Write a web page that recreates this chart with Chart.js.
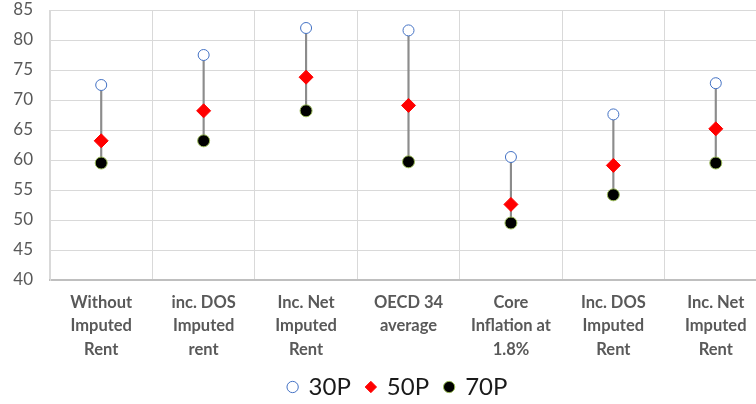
<!DOCTYPE html>
<html>
<head>
<meta charset="utf-8">
<script src="https://cdn.jsdelivr.net/npm/chart.js@4.4.1/dist/chart.umd.min.js"></script>
<style>
  html, body { margin: 0; padding: 0; background: #fff; overflow: hidden; }
  #wrap { width: 796px; height: 409px; }
</style>
</head>
<body>
<div id="wrap"><canvas id="c"></canvas></div>
<script>
// Categories (multi-line labels) and percentile values
const categories = [
  ["Without", "Imputed", "Rent"],
  ["inc. DOS", "Imputed", "rent"],
  ["Inc. Net", "Imputed", "Rent"],
  ["OECD 34", "average"],
  ["Core", "Inflation at", "1.8%"],
  ["Inc. DOS", "Imputed", "Rent"],
  ["Inc. Net", "Imputed", "Rent"]
];
const p30 = [72.5, 77.5, 82.0, 81.6, 60.5, 67.6, 72.8];
const p50 = [63.2, 68.2, 73.8, 69.1, 52.6, 59.1, 65.2];
const p70 = [59.5, 63.2, 68.2, 59.7, 49.5, 54.2, 59.5];
const yTicks = [40, 45, 50, 55, 60, 65, 70, 75, 80, 85];

// High-low connector between the 70th and 30th percentile
const ranges = p30.map((v, i) => [p70[i], v]);

const FONT = "Lato";

new Chart(document.getElementById("c"), {
  data: {
    labels: categories,
    datasets: [
      {
        type: "scatter",
        label: "30P",
        data: p30,
        pointStyle: "circle",
        pointRadius: 5.5,
        pointBackgroundColor: "#ffffff",
        pointBorderColor: "#4472C4",
        pointBorderWidth: 1,
        showLine: false,
        order: 1
      },
      {
        type: "scatter",
        label: "50P",
        data: p50,
        pointStyle: "rectRot",
        pointRadius: 7,
        pointBackgroundColor: "#ff0000",
        pointBorderColor: "#ff0000",
        pointBorderWidth: 1,
        showLine: false,
        order: 1
      },
      {
        type: "scatter",
        label: "70P",
        data: p70,
        pointStyle: "circle",
        pointRadius: 6,
        pointBackgroundColor: "#000000",
        pointBorderColor: "#9BBB59",
        pointBorderWidth: 1,
        showLine: false,
        order: 1
      },
      {
        type: "bar",
        label: "range",
        data: ranges,
        backgroundColor: "#8c8c8c",
        borderWidth: 0,
        barThickness: 1.5,
        order: 2
      }
    ]
  },
  options: {
    responsive: true,
    maintainAspectRatio: false,
    animation: false,
    layout: { padding: { top: 0, bottom: 0, left: 0, right: 0 } },
    plugins: {
      tooltip: { enabled: false },
      legend: {
        position: "bottom",
        labels: {
          filter: (item) => item.text !== "range",
          usePointStyle: true,
          boxWidth: 8,
          boxHeight: 8,
          padding: 16,
          color: "#1a1a1a",
          font: { family: FONT, size: 24 }
        }
      }
    },
    scales: {
      x: {
        type: "category",
        offset: true,
        grid: { display: true, offset: true, color: "#d9d9d9", lineWidth: 1, drawTicks: false },
        border: { display: true, color: "#bfbfbf", width: 2 },
        ticks: {
          color: "#595959",
          font: { family: FONT, size: 16.5, weight: "bold", lineHeight: 1.42 },
          padding: 11,
          maxRotation: 0,
          autoSkip: false
        },
        afterFit(s) { s.height = 79; }
      },
      y: {
        min: 40,
        max: 85,
        afterBuildTicks(s) { s.ticks = yTicks.map(v => ({ value: v })); },
        grid: { color: "#d9d9d9", lineWidth: 1, drawTicks: false },
        border: { display: true, color: "#d9d9d9", width: 1 },
        ticks: {
          color: "#595959",
          font: { family: FONT, size: 17 },
          padding: 17
        },
        afterFit(s) {
          s.width = 50;
          s.paddingTop = 10;
          s.paddingBottom = 10;
        }
      },
      yR: {
        position: "right",
        display: true,
        min: 40,
        max: 85,
        grid: { display: false, drawTicks: false },
        border: { display: false },
        ticks: { display: false },
        afterFit(s) { s.width = 29; }
      }
    }
  }
});
</script>
</body>
</html>
